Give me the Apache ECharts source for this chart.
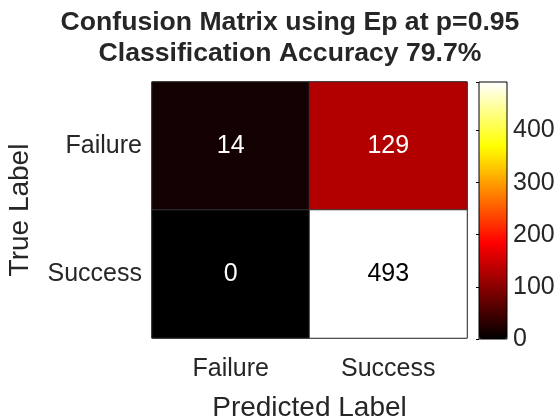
<!DOCTYPE html>
<html>
<head>
<meta charset="utf-8">
<script src="https://cdn.jsdelivr.net/npm/echarts@6/dist/echarts.min.js"></script>
<style>
  html, body { margin: 0; padding: 0; background: #fff; }
  #main { width: 560px; height: 420px; }
</style>
</head>
<body>
<div id="main"></div>
<script>
// confusion matrix data
const predLabels = ['Failure', 'Success']
const trueLabels = ['Success', 'Failure'] // bottom to top
const rowFailure = [14, 129]
const rowSuccess = [0, 493]
const colorbarTicks = [0, 100, 200, 300, 400]
const hotColors = ['#000000', '#550000', '#aa0000', '#ff0000', '#ff5500', '#ffaa00', '#ffff00', '#ffff80', '#ffffff']

const font = 'Liberation Sans, Arial, sans-serif'
const textColor = '#262626'
const maxVal = Math.max(...rowFailure, ...rowSuccess)

const cells = []
rowFailure.forEach((v, i) => cells.push({ value: [i, 1, v] }))
rowSuccess.forEach((v, i) => cells.push({ value: [i, 0, v] }))
cells.forEach(c => {
  c.label = { color: c.value[2] > maxVal * 0.6 ? '#000' : '#fff' }
})

const myChart = echarts.init(document.getElementById('main'))
const option = {
  animation: false,
  textStyle: { fontFamily: font },
  title: {
    text: 'Confusion Matrix using Ep at p=0.95\nClassification Accuracy 79.7%',
    left: 285,
    textAlign: 'center',
    top: 2,
    textStyle: {
      fontFamily: font,
      fontSize: 26.6,
      fontWeight: 'bold',
      lineHeight: 31,
      color: textColor
    }
  },
  grid: [
    { left: 152, top: 82, width: 315, height: 256, show: true, borderColor: textColor, borderWidth: 1, backgroundColor: 'transparent', outerBoundsMode: 'none' },
    { left: 479, top: 82, width: 28, height: 257, show: true, borderColor: '#000', borderWidth: 1, backgroundColor: 'transparent', z: 10, outerBoundsMode: 'none' }
  ],
  xAxis: [
    {
      type: 'category',
      gridIndex: 0,
      data: predLabels,
      axisLine: { show: false },
      axisTick: { show: false },
      axisLabel: { fontSize: 25, color: textColor, margin: 19, fontFamily: font },
      name: 'Predicted Label',
      nameLocation: 'middle',
      nameGap: 56,
      nameTextStyle: { fontSize: 28, color: textColor, fontFamily: font }
    },
    { type: 'value', gridIndex: 1, show: false, min: 0, max: 1 }
  ],
  yAxis: [
    {
      type: 'category',
      gridIndex: 0,
      data: trueLabels,
      axisLine: { show: false },
      axisTick: { show: false },
      axisLabel: { fontSize: 25, color: textColor, margin: 10, fontFamily: font, padding: [7, 0, 0, 0] },
      name: 'True Label',
      nameLocation: 'middle',
      nameGap: 118,
      nameTextStyle: { fontSize: 28, color: textColor, fontFamily: font }
    },
    {
      type: 'value',
      gridIndex: 1,
      position: 'right',
      z: 20,
      min: 0,
      max: maxVal,
      interval: 100,
      axisLine: { show: false },
      axisTick: { show: true, inside: true, length: 3, lineStyle: { color: '#000' } },
      splitLine: { show: false },
      axisLabel: {
        fontSize: 25,
        color: textColor,
        margin: 6,
        fontFamily: font,
        formatter: v => (colorbarTicks.includes(v) ? String(v) : '')
      }
    }
  ],
  visualMap: {
    type: 'continuous',
    seriesIndex: 0,
    min: 0,
    max: maxVal,
    calculable: false,
    hoverLink: false,
    left: 479,
    top: 82,
    itemWidth: 28,
    itemHeight: 257,
    padding: 0,
    text: null,
    showLabel: false,
    inRange: { color: hotColors }
  },
  series: [
    {
      type: 'heatmap',
      xAxisIndex: 0,
      yAxisIndex: 0,
      data: cells,
      label: {
        show: true,
        fontSize: 25,
        fontFamily: font,
        formatter: p => String(p.value[2])
      },
      itemStyle: { borderColor: '#333', borderWidth: 1 },
      emphasis: { disabled: true }
    }
  ]
}
myChart.setOption(option)
</script>
</body>
</html>
